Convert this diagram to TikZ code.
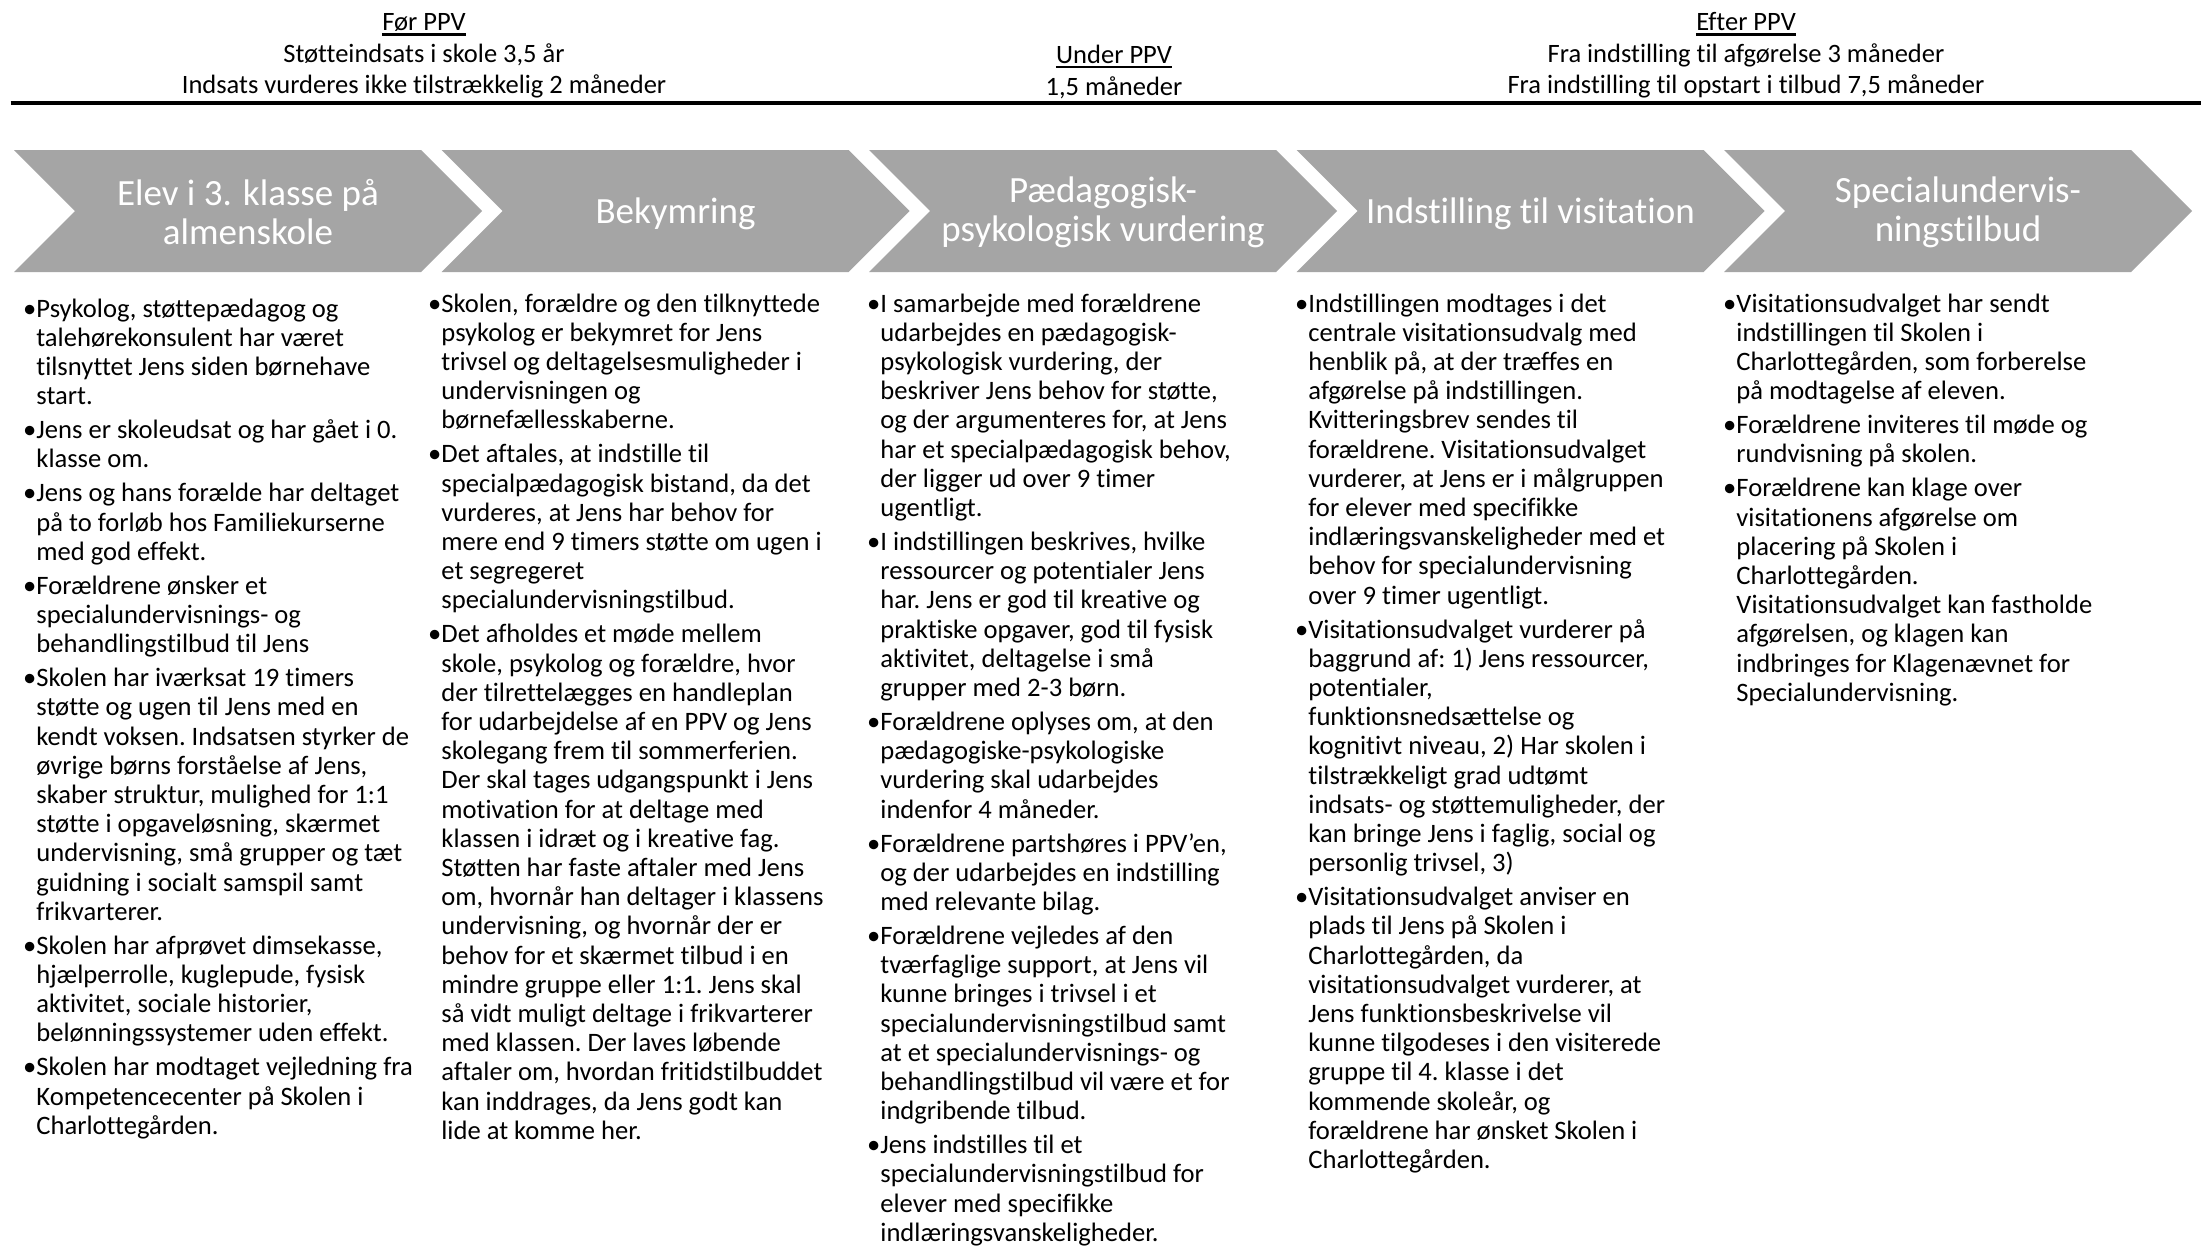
\documentclass[tikz,border=0pt]{standalone}
\usepackage{fontspec}
\setmainfont{Carlito}[Ligatures={NoCommon}]
\definecolor{chev}{HTML}{A5A5A5}
\newcommand{\colbox}[1]{\vtop{\hsize=240pt\fontsize{13.3}{14.6}\selectfont\frenchspacing\parindent=0pt\parskip=2.4pt\raggedright #1}}
\newcommand{\bul}{\leavevmode\llap{•}}
\begin{document}
\begin{tikzpicture}[x=0.5pt,y=-0.5pt,
  hdr/.style={inner sep=0pt, anchor=base, font=\fontsize{13.25}{15}\selectfont},
  uline/.style={line width=1.1pt},
  chevshape/.style={fill=chev},
  chevtxt/.style={inner sep=0pt, align=center, text=white, font=\fontsize{18.5}{19.5}\selectfont},
  coltxt/.style={inner sep=0pt, anchor=base west}]
\useasboundingbox (0,0) rectangle (2201,1248);
\fill[white] (0,0) rectangle (2201,1248);

% header
\node[hdr] (forppv) at (424,30.5) {Før PPV};
\draw[uline] ([yshift=-2pt]forppv.base west) -- ([yshift=-2pt]forppv.base east);
\node[hdr] (for2) at (424,62) {Støtteindsats i skole 3,5 år};
\node[hdr] (for3) at (424,93.5) {Indsats vurderes ikke tilstrækkelig 2 måneder};

\node[hdr] (underppv) at (1114,63) {Under PPV};
\draw[uline] ([yshift=-2pt]underppv.base west) -- ([yshift=-2pt]underppv.base east);
\node[hdr] (under2) at (1114,95) {1,5 måneder};

\node[hdr] (efterppv) at (1746,30.5) {Efter PPV};
\draw[uline] ([yshift=-2pt]efterppv.base west) -- ([yshift=-2pt]efterppv.base east);
\node[hdr] (efter2) at (1746,62) {Fra indstilling til afgørelse 3 måneder};
\node[hdr] (efter3) at (1746,93.5) {Fra indstilling til opstart i tilbud 7,5 måneder};

\coordinate (ruleL) at (10.5,103);
\coordinate (ruleR) at (2201,103);
\draw[line width=2.3pt] (ruleL) -- (ruleR);

% chevrons
\foreach \L in {14,441.5,869,1296.5,1724}
  \fill[chevshape] (\L,150) -- ++(407,0) -- ++(61,61) -- ++(-61,61) -- ++(-407,0) -- ++(61,-61) -- cycle;

\node[chevtxt] (t1) at (248,212) {Elev i 3. klasse på\\almenskole};
\node[chevtxt] (t2) at (675.5,214) {Bekymring};
\node[chevtxt] (t3) at (1103,212) {Pædagogisk-\\psykologisk vurdering};
\node[chevtxt] (t4) at (1530.5,214) {Indstilling til visitation};
\node[chevtxt] (t5) at (1958,212) {Specialundervis-\\ningstilbud};

% columns
\node[coltxt] (c1) at (36,317) {\colbox{%
\bul Psykolog, støttepædagog og\newline talehørekonsulent har været\newline tilsnyttet Jens siden børnehave\newline start.\par
\bul Jens er skoleudsat og har gået i 0.\newline klasse om.\par
\bul Jens og hans forælde har deltaget\newline på to forløb hos Familiekurserne\newline med god effekt.\par
\bul Forældrene ønsker et\newline specialundervisnings- og\newline behandlingstilbud til Jens\par
\bul Skolen har iværksat 19 timers\newline støtte og ugen til Jens med en\newline kendt voksen. Indsatsen styrker de\newline øvrige børns forståelse af Jens,\newline skaber struktur, mulighed for 1:1\newline støtte i opgaveløsning, skærmet\newline undervisning, små grupper og tæt\newline guidning i socialt samspil samt\newline frikvarterer.\par
\bul Skolen har afprøvet dimsekasse,\newline hjælperrolle, kuglepude, fysisk\newline aktivitet, sociale historier,\newline belønningssystemer uden effekt.\par
\bul Skolen har modtaget vejledning fra\newline Kompetencecenter på Skolen i\newline Charlottegården.}};

\node[coltxt] (c2) at (441,312) {\colbox{%
\bul Skolen, forældre og den tilknyttede\newline psykolog er bekymret for Jens\newline trivsel og deltagelsesmuligheder i\newline undervisningen og\newline børnefællesskaberne.\par
\bul Det aftales, at indstille til\newline specialpædagogisk bistand, da det\newline vurderes, at Jens har behov for\newline mere end 9 timers støtte om ugen i\newline et segregeret\newline specialundervisningstilbud.\par
\bul Det afholdes et møde mellem\newline skole, psykolog og forældre, hvor\newline der tilrettelægges en handleplan\newline for udarbejdelse af en PPV og Jens\newline skolegang frem til sommerferien.\newline Der skal tages udgangspunkt i Jens\newline motivation for at deltage med\newline klassen i idræt og i kreative fag.\newline Støtten har faste aftaler med Jens\newline om, hvornår han deltager i klassens\newline undervisning, og hvornår der er\newline behov for et skærmet tilbud i en\newline mindre gruppe eller 1:1. Jens skal\newline så vidt muligt deltage i frikvarterer\newline med klassen. Der laves løbende\newline aftaler om, hvordan fritidstilbuddet\newline kan inddrages, da Jens godt kan\newline lide at komme her.}};

\node[coltxt] (c3) at (880,312) {\colbox{%
\bul I samarbejde med forældrene\newline udarbejdes en pædagogisk-\newline psykologisk vurdering, der\newline beskriver Jens behov for støtte,\newline og der argumenteres for, at Jens\newline har et specialpædagogisk behov,\newline der ligger ud over 9 timer\newline ugentligt.\par
\bul I indstillingen beskrives, hvilke\newline ressourcer og potentialer Jens\newline har. Jens er god til kreative og\newline praktiske opgaver, god til fysisk\newline aktivitet, deltagelse i små\newline grupper med 2-3 børn.\par
\bul Forældrene oplyses om, at den\newline pædagogiske-psykologiske\newline vurdering skal udarbejdes\newline indenfor 4 måneder.\par
\bul Forældrene partshøres i PPV’en,\newline og der udarbejdes en indstilling\newline med relevante bilag.\par
\bul Forældrene vejledes af den\newline tværfaglige support, at Jens vil\newline kunne bringes i trivsel i et\newline specialundervisningstilbud samt\newline at et specialundervisnings- og\newline behandlingstilbud vil være et for\newline indgribende tilbud.\par
\bul Jens indstilles til et\newline specialundervisningstilbud for\newline elever med specifikke\newline indlæringsvanskeligheder.}};

\node[coltxt] (c4) at (1308,312) {\colbox{%
\bul Indstillingen modtages i det\newline centrale visitationsudvalg med\newline henblik på, at der træffes en\newline afgørelse på indstillingen.\newline Kvitteringsbrev sendes til\newline forældrene. Visitationsudvalget\newline vurderer, at Jens er i målgruppen\newline for elever med specifikke\newline indlæringsvanskeligheder med et\newline behov for specialundervisning\newline over 9 timer ugentligt.\par
\bul Visitationsudvalget vurderer på\newline baggrund af: 1) Jens ressourcer,\newline potentialer,\newline funktionsnedsættelse og\newline kognitivt niveau, 2) Har skolen i\newline tilstrækkeligt grad udtømt\newline indsats- og støttemuligheder, der\newline kan bringe Jens i faglig, social og\newline personlig trivsel, 3)\par
\bul Visitationsudvalget anviser en\newline plads til Jens på Skolen i\newline Charlottegården, da\newline visitationsudvalget vurderer, at\newline Jens funktionsbeskrivelse vil\newline kunne tilgodeses i den visiterede\newline gruppe til 4. klasse i det\newline kommende skoleår, og\newline forældrene har ønsket Skolen i\newline Charlottegården.}};

\node[coltxt] (c5) at (1736,312) {\colbox{%
\bul Visitationsudvalget har sendt\newline indstillingen til Skolen i\newline Charlottegården, som forberelse\newline på modtagelse af eleven.\par
\bul Forældrene inviteres til møde og\newline rundvisning på skolen.\par
\bul Forældrene kan klage over\newline visitationens afgørelse om\newline placering på Skolen i\newline Charlottegården.\newline Visitationsudvalget kan fastholde\newline afgørelsen, og klagen kan\newline indbringes for Klagenævnet for\newline Specialundervisning.}};
\end{tikzpicture}
\end{document}
